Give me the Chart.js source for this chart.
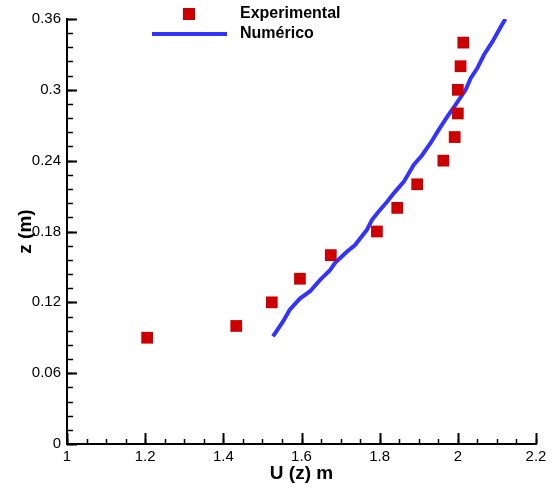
<!DOCTYPE html>
<html>
<head>
<meta charset="utf-8">
<script src="https://cdn.jsdelivr.net/npm/chart.js@4.4.0/dist/chart.umd.min.js"></script>
<style>
  body { margin: 0; background: #fff; }
  #wrap { position: relative; width: 554px; height: 490px; }
  .leg { position: absolute; font: bold 16px 'Liberation Sans', Arial, sans-serif; color: #000; line-height: 16px; }
</style>
</head>
<body>
<div id="wrap">
  <canvas id="profileChart"></canvas>
  <div style="position:absolute; left:183px; top:8px; width:12px; height:12px; background:#cc0000;"></div>
  <div style="position:absolute; left:152px; top:32px; width:75px; height:4px; background:#3333ff;"></div>
  <div class="leg" style="left:240px; top:5px;">Experimental</div>
  <div class="leg" style="left:240px; top:25px;">Numérico</div>
</div>
<script>
// Experimental points
const expU = [1.205, 1.433, 1.524, 1.596, 1.675, 1.793, 1.845, 1.896, 1.963, 1.992, 2.0, 2.0, 2.007, 2.014];
const expZ = [0.09, 0.10, 0.12, 0.14, 0.16, 0.18, 0.20, 0.22, 0.24, 0.26, 0.28, 0.30, 0.32, 0.34];

// Numerical profile
const numU = [1.527, 1.552, 1.570, 1.596, 1.622, 1.647, 1.673, 1.686, 1.716, 1.737, 1.750, 1.767, 1.780, 1.797,
  1.819, 1.836, 1.862, 1.887, 1.909, 1.930, 1.951, 1.973, 1.994, 2.020, 2.033, 2.050, 2.067, 2.089, 2.101, 2.118, 2.122];
const numZ = [0.0912, 0.1034, 0.1137, 0.1232, 0.1294, 0.1388, 0.1472, 0.1534, 0.1628, 0.1685, 0.1741, 0.1812, 0.1897, 0.1967,
  0.2052, 0.2123, 0.2222, 0.2364, 0.2448, 0.2548, 0.2661, 0.2773, 0.2873, 0.3000, 0.3099, 0.3184, 0.3297, 0.3410, 0.3481, 0.3580, 0.360];

const font = "'Liberation Sans', Arial, sans-serif";

// plain number labels: 1, 1.2, 2 / 0.3, 0.36
const plain = v => String(parseFloat(Number(v).toFixed(3)));

// inward major/minor tick marks, like the original plot
const innerTicks = {
  id: 'innerTicks',
  afterDraw(chart) {
    const ctx = chart.ctx;
    const x = chart.scales.x, y = chart.scales.y;
    const left = chart.chartArea.left, bottom = chart.chartArea.bottom;
    ctx.save();
    ctx.strokeStyle = '#000';
    const mark = (scale, from, to, step, len, width) => {
      ctx.lineWidth = width;
      const n = Math.round((to - from) / step);
      for (let i = 0; i <= n; i++) {
        const v = from + i * step;
        const p = Math.round(scale.getPixelForValue(v)) + 0.5;
        ctx.beginPath();
        if (scale === x) { ctx.moveTo(p, bottom); ctx.lineTo(p, bottom - len); }
        else { ctx.moveTo(left, p); ctx.lineTo(left + len, p); }
        ctx.stroke();
      }
    };
    mark(x, 1, 2.2, 0.05, 5, 1.5);
    mark(x, 1, 2.2, 0.2, 11, 2);
    mark(y, 0, 0.36, 0.012, 6, 1.5);
    mark(y, 0, 0.36, 0.06, 10, 2);
    ctx.restore();
  }
};

const expPoints = expU.map((u, i) => ({ x: u, y: expZ[i] }));
const numPoints = numU.map((u, i) => ({ x: u, y: numZ[i] }));

const profileChart = new Chart(document.getElementById('profileChart'), {
  type: 'scatter',
  data: {
    datasets: [{
      label: 'Experimental',
      data: expPoints,
      pointStyle: 'rect',
      pointRadius: 8.3,
      pointBorderWidth: 0,
      backgroundColor: '#cc0000',
      borderColor: '#cc0000',
    }, {
      label: 'Numérico',
      data: numPoints,
      showLine: true,
      borderColor: '#3333ff',
      borderWidth: 4,
      pointRadius: 0,
      tension: 0,
      fill: false,
    }]
  },
  options: {
    responsive: true,
    maintainAspectRatio: false,
    animation: false,
    layout: { padding: { top: 19, right: 18, left: 0, bottom: 0 } },
    plugins: {
      legend: { display: false },
      tooltip: { enabled: false }
    },
    scales: {
      x: {
        type: 'linear',
        min: 1, max: 2.2,
        afterFit(s) { s.height = 46; },
        grid: { display: false, drawTicks: false },
        border: { display: true, color: '#000', width: 2 },
        ticks: { stepSize: 0.2, padding: 4, color: '#000', font: { family: font, size: 15 }, callback: plain },
        title: { display: true, text: 'U (z) m', color: '#000', font: { family: font, size: 19, weight: 'bold', lineHeight: 1 }, padding: { top: 0, bottom: 7 } }
      },
      y: {
        type: 'linear',
        min: 0, max: 0.36,
        afterFit(s) { s.width = 67; },
        grid: { display: false, drawTicks: false },
        border: { display: true, color: '#000', width: 2 },
        ticks: { stepSize: 0.06, padding: 6, color: '#000', font: { family: font, size: 15 }, callback: plain },
        title: { display: true, text: 'z (m)', color: '#000', font: { family: font, size: 19, weight: 'bold', lineHeight: 1 }, padding: { top: 16, bottom: 0 } }
      }
    }
  },
  plugins: [innerTicks]
});
</script>
</body>
</html>
